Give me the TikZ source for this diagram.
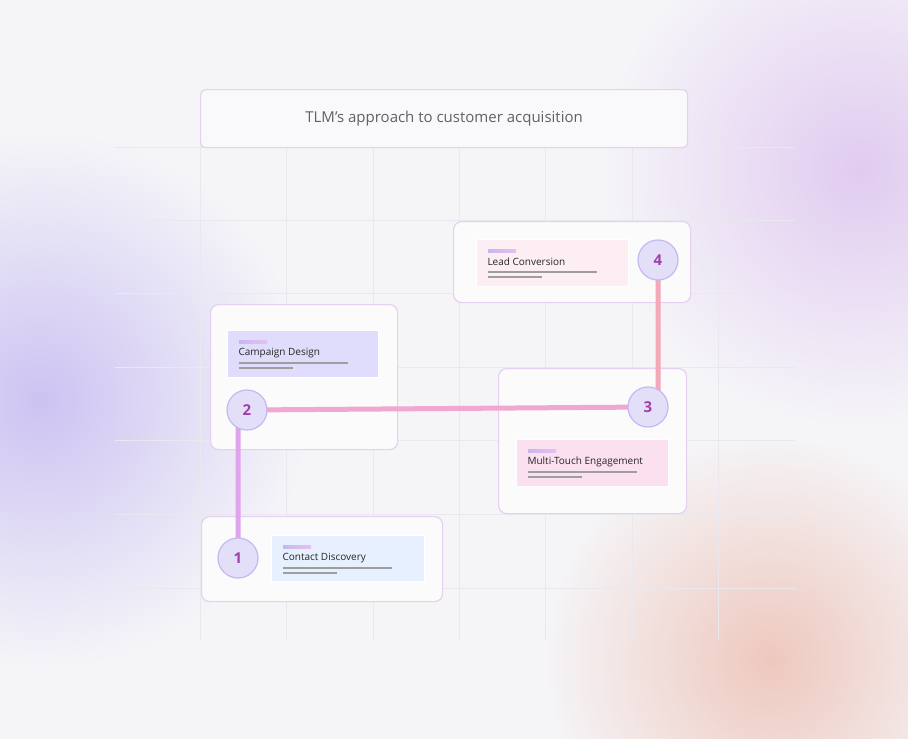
\documentclass[tikz,border=0pt]{standalone}
\usepackage{fontspec}
\setmainfont{Open Sans}
\usetikzlibrary{positioning}
\definecolor{bgcol}{HTML}{F5F5F8}
\definecolor{gridcol}{HTML}{E8E8EE}
\definecolor{cardline}{HTML}{E6CFF0}
\definecolor{numcol}{HTML}{A040A8}
\definecolor{ringcol}{HTML}{C4B8F0}
\definecolor{linkpink}{HTML}{F0A8D0}
\definecolor{linkviolet}{HTML}{E0A4EC}
\definecolor{linkpeach}{HTML}{F4A8B8}
\definecolor{peachblob}{HTML}{EEC8BE}
\definecolor{tileblue}{HTML}{E6F0FE}
\definecolor{tilerose}{HTML}{FDEEF4}
\definecolor{tilepink}{HTML}{FBE0F0}
\definecolor{tilelilac}{HTML}{E0DCFB}
\tikzset{
  card/.style={draw=cardline, line width=1.2pt, rounded corners=8pt, fill=white!60!bgcol, inner sep=0pt, anchor=north west},
  tile/.style={draw=white, line width=1pt, inner sep=0pt, anchor=north west, minimum width=152pt, minimum height=47pt},
  stepdot/.style={circle, draw=ringcol, line width=1.2pt, fill=ringcol!45!white, minimum size=40pt, inner sep=0pt, text=numcol, font=\fontsize{15}{15}\selectfont\bfseries},
  title/.style={font=\fontsize{10}{12}\selectfont, text=black!85, anchor=west},
}
\newcommand{\tiledeco}[2]{%
  \fill[left color=ringcol, right color=linkviolet!70] ([xshift=12pt,yshift=-10pt]#1.north west) rectangle ++(28pt,-3.5pt);
  \node[title] at ([xshift=8pt,yshift=-23pt]#1.north west) {#2};
  \fill[black!38] ([xshift=12pt,yshift=-32pt]#1.north west) rectangle ++(109pt,-2pt);
  \fill[black!38] ([xshift=12pt,yshift=-37pt]#1.north west) rectangle ++(54pt,-2pt);
}
\begin{document}
\begin{tikzpicture}[x=1pt,y=-1pt]
\fill[bgcol] (0,0) rectangle (908,739);
\useasboundingbox (0,0) rectangle (908,739);
% soft colour blobs
\begin{scope}
\clip (0,0) rectangle (908,739);
\shade[inner color=ringcol!85, outer color=bgcol] (40,400) circle (270);
\shade[inner color=cardline!85!ringcol, outer color=bgcol] (860,170) circle (260);
\shade[inner color=peachblob, outer color=bgcol] (770,660) circle (230);
\end{scope}
% grid
\foreach \gx in {200,286,373,459,545,632,718}
  \draw[gridcol] (\gx,100) -- (\gx,640);
\foreach \gy in {147,220,293,367,440,514,588}
  \draw[gridcol] (115,\gy) -- (795,\gy);
% heading
\node[card, rounded corners=5pt, fill=white!40!bgcol, minimum width=487pt, minimum height=58pt] (head) at (200,89) {};
\node[font=\fontsize{15}{17}\selectfont, text=black!62] at (head.center) {TLM’s approach to customer acquisition};
% cards
\node[card, minimum width=237pt, minimum height=81pt] (card4) at (453,221) {};
\node[card, minimum width=187pt, minimum height=145pt] (card2) at (210,304) {};
\node[card, minimum width=188pt, minimum height=145pt] (card3) at (498,368) {};
\node[card, minimum width=241pt, minimum height=85pt] (card1) at (201,516) {};
% tiles
\node[tile, fill=tilerose] (tile4) at (476,239) {};
\tiledeco{tile4}{Lead Conversion}
\node[tile, fill=tilelilac, minimum width=151pt] (tile2) at (227,330) {};
\tiledeco{tile2}{Campaign Design}
\node[tile, fill=tilepink] (tile3) at (516,439) {};
\tiledeco{tile3}{Multi-Touch Engagement}
\node[tile, fill=tileblue, minimum width=153pt, minimum height=46pt] (tile1) at (271,535) {};
\tiledeco{tile1}{Contact Discovery}
% step positions
\coordinate (p1) at (238,558);
\coordinate (p2) at (247,410);
\coordinate (p3) at (648,407);
\coordinate (p4) at (658,260);
% links
\draw[linkviolet, line width=5pt, rounded corners=10pt] (p1) -- (p1 |- p2) -- (p2);
\draw[linkpink, line width=5pt] (p2) -- (p3);
\draw[linkpeach, line width=5pt, rounded corners=8pt] (p3) -| (p4);
% steps
\node[stepdot] (s1) at (p1) {1};
\node[stepdot] (s2) at (p2) {2};
\node[stepdot] (s3) at (p3) {3};
\node[stepdot] (s4) at (p4) {4};
\end{tikzpicture}
\end{document}
